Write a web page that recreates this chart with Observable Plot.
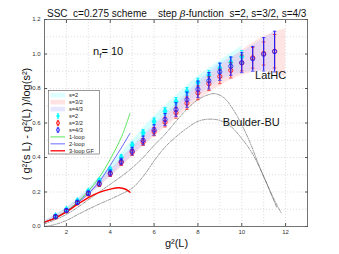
<!DOCTYPE html>
<html><head><meta charset="utf-8">
<script src="https://cdn.jsdelivr.net/npm/d3@7"></script>
<script src="https://cdn.jsdelivr.net/npm/@observablehq/plot@0.6"></script>
<style>body{margin:0;background:#fff;} svg{display:block}</style>
</head><body><div id="chart"></div>
<script>
// ---- data ----
const xS2  = [1.5,2,2.5,3,3.5,4,4.5,5,5.5,6,6.5,7,7.5,8,8.5,9,9.5,10];
const yS2  = [0.060,0.098,0.148,0.203,0.265,0.329,0.400,0.472,0.543,0.609,0.668,0.725,0.783,0.835,0.878,0.918,0.952,0.985];
const eS2  = [0.008,0.009,0.010,0.012,0.013,0.015,0.016,0.017,0.018,0.020,0.021,0.022,0.023,0.025,0.027,0.030,0.032,0.035];

const xS32 = [1.5,2,2.5,3,3.5,4,4.5,5,5.5,6,6.5,7,7.5,8,8.5,9,9.5,10,10.5,11,11.5];
const yS32 = [0.055,0.090,0.137,0.190,0.245,0.305,0.370,0.430,0.490,0.550,0.605,0.660,0.715,0.775,0.828,0.870,0.905,0.948,0.978,1.003,1.016];
const eS32 = [0.008,0.009,0.010,0.012,0.013,0.015,0.016,0.018,0.020,0.024,0.028,0.032,0.036,0.040,0.040,0.042,0.044,0.046,0.060,0.067,0.097];

const xS43 = [1.5,2,2.5,3,3.5,4,4.5,5,5.5,6,6.5,7,7.5,8,8.5,9,9.5,10,10.5,11,11.5];
const yS43 = [0.058,0.093,0.140,0.193,0.250,0.310,0.377,0.437,0.499,0.560,0.620,0.678,0.735,0.795,0.845,0.897,0.929,0.950,0.972,0.998,1.014];
const eS43 = [0.010,0.010,0.012,0.013,0.015,0.017,0.019,0.022,0.025,0.030,0.035,0.040,0.044,0.048,0.048,0.050,0.053,0.058,0.072,0.097,0.118];

// continuous fits with error bands
const bandS2X  = [1,1.5,2,3,4,5,6,7,8,9,10];
const bandS2Lo = [0.018,0.045,0.082,0.180,0.305,0.445,0.578,0.690,0.795,0.870,0.915];
const bandS2Hi = [0.032,0.068,0.108,0.222,0.352,0.498,0.638,0.758,0.870,0.960,1.045];

const bandS43X  = [1,1.5,2,3,4,5,6,7,8,9,10,11,11.5];
const bandS43Lo = [0.015,0.045,0.080,0.178,0.290,0.410,0.530,0.642,0.752,0.845,0.890,0.905,0.900];
const bandS43Hi = [0.030,0.068,0.105,0.208,0.330,0.463,0.590,0.712,0.838,0.945,1.010,1.090,1.130];

const bandS32X  = [1,1.5,2,3,4,5,6,7,8,9,10,11,12];
const bandS32Lo = [0.013,0.043,0.078,0.175,0.285,0.405,0.520,0.625,0.730,0.815,0.875,0.900,0.866];
const bandS32Hi = [0.028,0.065,0.102,0.205,0.325,0.455,0.580,0.695,0.820,0.925,1.020,1.100,1.146];

// perturbative curves
const loop1X = [1,1.5,2,2.5,3,3.5,4,4.5,4.9];
const loop1Y = [0.025,0.052,0.090,0.140,0.205,0.285,0.390,0.515,0.655];
const loop2X = [1,1.5,2,2.5,3,3.5,4,4.5,4.9];
const loop2Y = [0.025,0.050,0.087,0.135,0.190,0.260,0.355,0.455,0.540];
const loop3X = [1,1.5,2,2.5,3,3.5,4,4.4,4.7,4.9];
const loop3Y = [0.025,0.050,0.085,0.128,0.168,0.198,0.217,0.225,0.216,0.198];

// other collaborations (dash-dot)
const latX = [1,1.5,2,2.5,3,3.5,4,4.5,5,5.5,6,6.5,7,7.5,8,8.5,8.8,9.2,9.6,10,10.4,10.8,11.2,11.6];
const latY = [0.015,0.040,0.070,0.110,0.155,0.200,0.245,0.290,0.340,0.400,0.470,0.535,0.610,0.680,0.735,0.765,0.770,0.745,0.680,0.590,0.480,0.350,0.230,0.110];
const bbuX = [1,1.5,2,2.5,3,3.5,4,4.5,5,5.5,6,6.5,7,7.5,8,8.5,9,9.5,10,10.5,11,11.5,11.8];
const bbuY = [0.000,0.012,0.035,0.068,0.100,0.130,0.158,0.188,0.222,0.290,0.380,0.460,0.520,0.570,0.610,0.622,0.615,0.580,0.510,0.420,0.290,0.150,0.080];

const xTicks = [2,4,6,8,10,12];
const yTicks = [0,0.2,0.4,0.6,0.8,1,1.2];
const legendLabels = ["s=2","s=3/2","s=4/3","s=2","s=3/2","s=4/3","1-loop","2-loop","3-loop GF"];

// ---- build tables ----
const pts = (xs, ys, es) => xs.map((x,i)=>({x, y:ys[i], e:es[i]}));
const band = (xs, lo, hi) => xs.map((x,i)=>({x, lo:lo[i], hi:hi[i]}));
const line = (xs, ys) => xs.map((x,i)=>({x, y:ys[i]}));
const P2 = pts(xS2,yS2,eS2), P32 = pts(xS32,yS32,eS32), P43 = pts(xS43,yS43,eS43);

const CY = "#00f0ff", RD = "#ff0000", BL = "#1a1aff";
const cap = 0.08;
function errMarks(data, color, w) {
  return [
    Plot.ruleX(data, {x:"x", y1:d=>d.y-d.e, y2:d=>d.y+d.e, stroke:color, strokeWidth:w}),
    Plot.link(data, {x1:d=>d.x-cap, x2:d=>d.x+cap, y1:d=>d.y+d.e, y2:d=>d.y+d.e, stroke:color, strokeWidth:0.7}),
    Plot.link(data, {x1:d=>d.x-cap, x2:d=>d.x+cap, y1:d=>d.y-d.e, y2:d=>d.y-d.e, stroke:color, strokeWidth:0.7})
  ];
}
const gridStyle = {stroke:"#cccccc", strokeOpacity:1, strokeWidth:0.6, strokeDasharray:"1.2,1.8"};

const plot = Plot.plot({
  width: 339, height: 254,
  marginLeft: 44, marginRight: 32, marginTop: 19, marginBottom: 28,
  x: {domain:[1,13]},
  y: {domain:[0,1.2]},
  style: {fontFamily:"'Liberation Sans', Arial, sans-serif", fontSize:"6px", background:"#fff", color:"#333"},
  marks: [
    Plot.gridX(d3.range(1,14), gridStyle),
    Plot.gridY(d3.range(0,1.21,0.1), gridStyle),
    Plot.areaY(band(bandS2X,bandS2Lo,bandS2Hi), {x:"x", y1:"lo", y2:"hi", fill:"#c8ffff", fillOpacity:0.7, curve:"catmull-rom"}),
    Plot.areaY(band(bandS32X,bandS32Lo,bandS32Hi), {x:"x", y1:"lo", y2:"hi", fill:"#ffc4c4", fillOpacity:0.45, curve:"catmull-rom"}),
    Plot.areaY(band(bandS43X,bandS43Lo,bandS43Hi), {x:"x", y1:"lo", y2:"hi", fill:"#ccccff", fillOpacity:0.45, curve:"catmull-rom"}),
    Plot.line(line(latX,latY), {x:"x", y:"y", stroke:"#555", strokeWidth:0.6, strokeDasharray:"3,1.3,0.7,1.3", curve:"catmull-rom"}),
    Plot.line(line(bbuX,bbuY), {x:"x", y:"y", stroke:"#555", strokeWidth:0.6, strokeDasharray:"3,1.3,0.7,1.3", curve:"catmull-rom"}),
    Plot.line(line(loop1X,loop1Y), {x:"x", y:"y", stroke:"#33dd33", strokeWidth:0.8, curve:"catmull-rom"}),
    Plot.line(line(loop2X,loop2Y), {x:"x", y:"y", stroke:"#4444ff", strokeWidth:0.8, curve:"catmull-rom"}),
    Plot.line(line(loop3X,loop3Y), {x:"x", y:"y", stroke:"#ff0000", strokeWidth:1.4, curve:"catmull-rom"}),
    ...errMarks(P2, CY, 1.1),
    Plot.dot(P2, {x:"x", y:"y", symbol:"diamond", r:2.3, fill:"#00ffff", stroke:"#00d8ff", strokeWidth:0.4}),
    ...errMarks(P32, RD, 0.8),
    Plot.dot(P32, {x:"x", y:"y", r:2.1, stroke:RD, strokeWidth:0.8, fill:"none"}),
    ...errMarks(P43, BL, 1.1),
    Plot.dot(P43, {x:"x", y:"y", r:2.1, stroke:BL, strokeWidth:0.8, fill:"none"}),
    Plot.frame({stroke:"#555", strokeWidth:0.8}),
    Plot.axisX(xTicks, {anchor:"bottom", tickSize:-3, tickPadding:6, label:null, stroke:"#555", fill:"#333"}),
    Plot.axisX(xTicks, {anchor:"top", tickSize:-3, tickFormat:()=>"", label:null, stroke:"#555"}),
    Plot.axisY(yTicks, {anchor:"left", tickSize:-3, tickPadding:7, label:null, stroke:"#555", fill:"#333"}),
    Plot.axisY(yTicks, {anchor:"right", tickSize:-3, tickFormat:()=>"", label:null, stroke:"#555"})
  ]
});
document.getElementById("chart").appendChild(plot);

// ---- text and legend ----
const svg = d3.select(plot);
const sx = plot.scale("x"), sy = plot.scale("y");
const FF = "'Liberation Sans', Arial, sans-serif";
function txt(x, y, s, size, anchor="start") {
  return svg.append("text").attr("x",x).attr("y",y).attr("font-family",FF)
    .attr("font-size",size).attr("fill","#111").attr("text-anchor",anchor).text(s);
}
// title
txt(47, 16.5, "SSC  c=0.275 scheme", 10);
const t2 = svg.append("text").attr("x",158).attr("y",16.5).attr("text-anchor","start").attr("font-family",FF).attr("font-size",10).attr("fill","#111");
t2.append("tspan").text("step ");
t2.append("tspan").attr("font-style","italic").attr("font-family","'DejaVu Serif', serif").text("β");
t2.append("tspan").text("-function  s=2, s=3/2, s=4/3");
// axis labels
txt(176.5, 247, "g²(L)", 11, "middle");
svg.append("text").attr("transform","translate(30,124) rotate(-90)").attr("text-anchor","middle")
  .attr("font-family",FF).attr("font-size",11).attr("fill","#111").text("( g²(s L) - g²(L) )/log(s²)");
// annotations
const nf = svg.append("text").attr("x",sx.apply(3.24)).attr("y",sy.apply(0.99)).attr("text-anchor","start").attr("font-family",FF).attr("font-size",11).attr("fill","#111");
nf.append("tspan").text("n");
nf.append("tspan").attr("font-size",8).attr("dy",3).text("f");
nf.append("tspan").attr("dy",-3).text("= 10");
txt(sx.apply(10.63), sy.apply(0.855), "LatHC", 11);
txt(sx.apply(9.16), sy.apply(0.58), "Boulder-BU", 11);

// legend
const lg = svg.append("g");
lg.append("rect").attr("x",48.5).attr("y",90.5).attr("width",51).attr("height",63.5).attr("fill","#fff").attr("stroke","#555").attr("stroke-width",0.6);
const rowY = i => 95.2 + i*6.95;
const patchCols = ["#ddffff","#ffe2e2","#e6e6ff"];
legendLabels.forEach((lab,i)=>{
  const y = rowY(i);
  if (i<3) lg.append("rect").attr("x",50.5).attr("y",y-2.3).attr("width",14.5).attr("height",4.6).attr("fill",patchCols[i]);
  else if (i<6) {
    const c = [CY,RD,BL][i-3];
    lg.append("line").attr("x1",58).attr("x2",58).attr("y1",y-2.6).attr("y2",y+2.6).attr("stroke",c).attr("stroke-width",0.9);
    [y-2.6,y+2.6].forEach(yy=>lg.append("line").attr("x1",56.8).attr("x2",59.2).attr("y1",yy).attr("y2",yy).attr("stroke",c).attr("stroke-width",0.6));
    if (i===3) lg.append("path").attr("d",`M58,${y-2}L60,${y}L58,${y+2}L56,${y}Z`).attr("fill","#00ffff");
    else lg.append("circle").attr("cx",58).attr("cy",y).attr("r",1.7).attr("fill","none").attr("stroke",c).attr("stroke-width",0.7);
  } else {
    const c = ["#33dd33","#4444ff","#ff0000"][i-6];
    lg.append("line").attr("x1",50.5).attr("x2",65).attr("y1",y).attr("y2",y).attr("stroke",c).attr("stroke-width",i===8?1.3:0.8);
  }
  lg.append("text").attr("x",69).attr("y",y+2).attr("text-anchor","start").attr("font-family",FF).attr("font-size",5.6).attr("fill","#222").text(lab);
});
</script>
</body></html>
